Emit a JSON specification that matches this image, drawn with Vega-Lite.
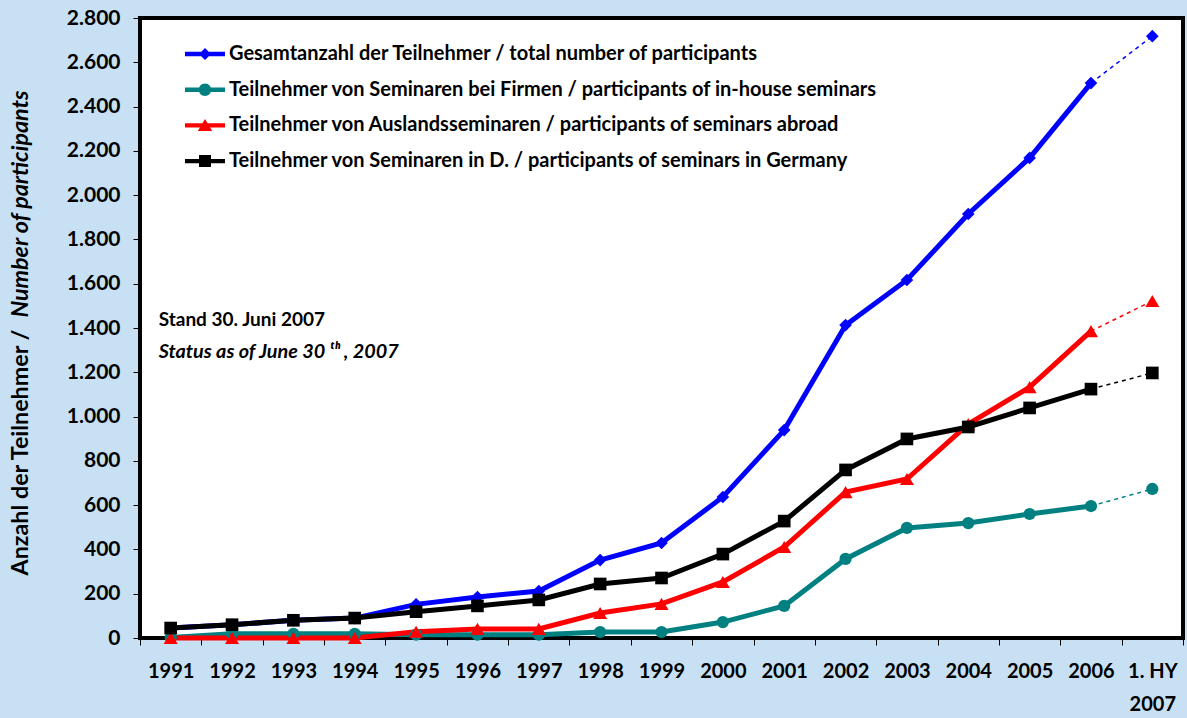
{
  "$schema": "https://vega.github.io/schema/vega-lite/v6.json",
  "width": 1043,
  "height": 620,
  "autosize": {"type": "none"},
  "padding": {"left": 140, "top": 18, "right": 4, "bottom": 80},
  "background": "#c8e0f4",
  "config": {
    "view": {"fill": "white", "stroke": "black", "strokeWidth": 4},
    "font": "Lato",
    "axis": {"grid": false, "labelFont": "Lato", "labelFontWeight": "bold", "labelColor": "black", "tickColor": "black", "domainColor": "black", "titleFont": "Lato", "titleFontWeight": "bold", "titleColor": "black"},
    "legend": {"labelFont": "Lato", "labelFontWeight": "bold", "labelFontSize": 20, "labelColor": "black", "labelLimit": 0, "symbolSize": 400, "symbolStrokeWidth": 0, "symbolOpacity": 1, "rowPadding": 15.7, "labelOffset": 14, "padding": 0}
  },
  "data": {
    "values": [
      {"year": "1991", "series": "total", "value": 45},
      {"year": "1992", "series": "total", "value": 60},
      {"year": "1993", "series": "total", "value": 80},
      {"year": "1994", "series": "total", "value": 90},
      {"year": "1995", "series": "total", "value": 152},
      {"year": "1996", "series": "total", "value": 185},
      {"year": "1997", "series": "total", "value": 212},
      {"year": "1998", "series": "total", "value": 352},
      {"year": "1999", "series": "total", "value": 429},
      {"year": "2000", "series": "total", "value": 637},
      {"year": "2001", "series": "total", "value": 939},
      {"year": "2002", "series": "total", "value": 1413},
      {"year": "2003", "series": "total", "value": 1617},
      {"year": "2004", "series": "total", "value": 1915},
      {"year": "2005", "series": "total", "value": 2168},
      {"year": "2006", "series": "total", "value": 2506},
      {"year": "1. HY 2007", "series": "total", "value": 2718},
      {"year": "1991", "series": "inhouse", "value": 2},
      {"year": "1992", "series": "inhouse", "value": 19},
      {"year": "1993", "series": "inhouse", "value": 19},
      {"year": "1994", "series": "inhouse", "value": 19},
      {"year": "1995", "series": "inhouse", "value": 15},
      {"year": "1996", "series": "inhouse", "value": 15},
      {"year": "1997", "series": "inhouse", "value": 15},
      {"year": "1998", "series": "inhouse", "value": 27},
      {"year": "1999", "series": "inhouse", "value": 27},
      {"year": "2000", "series": "inhouse", "value": 72},
      {"year": "2001", "series": "inhouse", "value": 145},
      {"year": "2002", "series": "inhouse", "value": 357},
      {"year": "2003", "series": "inhouse", "value": 497},
      {"year": "2004", "series": "inhouse", "value": 519},
      {"year": "2005", "series": "inhouse", "value": 560},
      {"year": "2006", "series": "inhouse", "value": 596},
      {"year": "1. HY 2007", "series": "inhouse", "value": 673},
      {"year": "1991", "series": "abroad", "value": 0},
      {"year": "1992", "series": "abroad", "value": 0},
      {"year": "1993", "series": "abroad", "value": 0},
      {"year": "1994", "series": "abroad", "value": 0},
      {"year": "1995", "series": "abroad", "value": 28},
      {"year": "1996", "series": "abroad", "value": 41},
      {"year": "1997", "series": "abroad", "value": 41},
      {"year": "1998", "series": "abroad", "value": 113},
      {"year": "1999", "series": "abroad", "value": 154},
      {"year": "2000", "series": "abroad", "value": 253},
      {"year": "2001", "series": "abroad", "value": 411},
      {"year": "2002", "series": "abroad", "value": 659},
      {"year": "2003", "series": "abroad", "value": 718},
      {"year": "2004", "series": "abroad", "value": 966},
      {"year": "2005", "series": "abroad", "value": 1133},
      {"year": "2006", "series": "abroad", "value": 1386},
      {"year": "1. HY 2007", "series": "abroad", "value": 1522},
      {"year": "1991", "series": "germany", "value": 45},
      {"year": "1992", "series": "germany", "value": 60},
      {"year": "1993", "series": "germany", "value": 80},
      {"year": "1994", "series": "germany", "value": 90},
      {"year": "1995", "series": "germany", "value": 119},
      {"year": "1996", "series": "germany", "value": 145},
      {"year": "1997", "series": "germany", "value": 172},
      {"year": "1998", "series": "germany", "value": 244},
      {"year": "1999", "series": "germany", "value": 271},
      {"year": "2000", "series": "germany", "value": 379},
      {"year": "2001", "series": "germany", "value": 528},
      {"year": "2002", "series": "germany", "value": 759},
      {"year": "2003", "series": "germany", "value": 899},
      {"year": "2004", "series": "germany", "value": 953},
      {"year": "2005", "series": "germany", "value": 1039},
      {"year": "2006", "series": "germany", "value": 1124},
      {"year": "1. HY 2007", "series": "germany", "value": 1197}
    ]
  },
  "layer": [
    {
      "transform": [{"filter": "datum.year != '1. HY 2007'"}],
      "mark": {"type": "line", "strokeWidth": 5},
      "encoding": {
        "x": {
          "field": "year", "type": "nominal", "sort": null,
          "scale": {"type": "band", "paddingInner": 0, "paddingOuter": 0, "domain": ["1991","1992","1993","1994","1995","1996","1997","1998","1999","2000","2001","2002","2003","2004","2005","2006","1. HY 2007"]},
          "axis": {"title": null, "labelAngle": 0, "labelFontSize": 20, "labelFontWeight": "bold", "labelPadding": 16, "labelBaseline": "top", "labelLineHeight": 33, "labelExpr": "datum.value == '1. HY 2007' ? ['1. HY', '2007'] : datum.value", "domain": false, "ticks": true, "tickBand": "extent", "tickSize": 7, "tickWidth": 1}
        },
        "y": {
          "field": "value", "type": "quantitative",
          "scale": {"domain": [0, 2800], "nice": false, "zero": true},
          "axis": {"orient": "left", "values": [0,200,400,600,800,1000,1200,1400,1600,1800,2000,2200,2400,2600,2800], "labelExpr": "replace(format(datum.value, ','), ',', '.')", "labelFontSize": 21, "labelFontWeight": "bold", "labelPadding": 13, "tickSize": 7, "tickWidth": 1, "domain": false, "title": "Anzahl der Teilnehmer / ", "titleFontSize": 23.3, "titleFontWeight": "bold", "titleAngle": 270, "titleAlign": "left", "titleBaseline": "middle", "titleX": -120, "titleY": 557}
        },
        "stroke": {
          "field": "series", "type": "nominal",
          "scale": {"domain": ["germany","abroad","inhouse","total"], "range": ["#000000","#ff0000","#008080","#0000ff"]},
          "legend": null
        }
      }
    },
    {
      "transform": [{"filter": "datum.year == '2006' || datum.year == '1. HY 2007'"}],
      "mark": {"type": "line", "strokeWidth": 1.5, "strokeDash": [4, 4]},
      "encoding": {
        "x": {"field": "year", "type": "nominal", "sort": null},
        "y": {"field": "value", "type": "quantitative", "axis": null},
        "stroke": {"field": "series", "type": "nominal", "legend": null}
      }
    },
    {
      "transform": [{"filter": "datum.series == 'total'"}],
      "mark": {"type": "point", "filled": true, "opacity": 1, "shape": "diamond", "size": 160, "color": "#0000ff"},
      "encoding": {
        "x": {"field": "year", "type": "nominal", "sort": null},
        "y": {"field": "value", "type": "quantitative", "axis": null}
      }
    },
    {
      "transform": [{"filter": "datum.series == 'inhouse'"}],
      "mark": {"type": "point", "filled": true, "opacity": 1, "shape": "circle", "size": 150, "color": "#008080"},
      "encoding": {
        "x": {"field": "year", "type": "nominal", "sort": null},
        "y": {"field": "value", "type": "quantitative", "axis": null}
      }
    },
    {
      "transform": [{"filter": "datum.series == 'abroad'"}],
      "mark": {"type": "point", "filled": true, "opacity": 1, "shape": "triangle-up", "size": 196, "color": "#ff0000"},
      "encoding": {
        "x": {"field": "year", "type": "nominal", "sort": null},
        "y": {"field": "value", "type": "quantitative", "axis": null}
      }
    },
    {
      "transform": [{"filter": "datum.series == 'germany'"}],
      "mark": {"type": "point", "filled": true, "opacity": 1, "shape": "square", "size": 160, "color": "#000000"},
      "encoding": {
        "x": {"field": "year", "type": "nominal", "sort": null},
        "y": {"field": "value", "type": "quantitative", "axis": null}
      }
    },
    {
      "data": {"values": [{"label": "Stand 30. Juni 2007", "year": "1991", "value": 1436}]},
      "mark": {"type": "text", "align": "left", "baseline": "middle", "fontSize": 19, "fontWeight": "bold", "color": "black", "dx": -12},
      "encoding": {
        "x": {"field": "year", "type": "nominal"},
        "y": {"field": "value", "type": "quantitative", "axis": null},
        "text": {"field": "label"}
      }
    },
    {
      "data": {"values": [{"label": "Status as of June 30 ᵗʰ , 2007", "year": "1991", "value": 1292}]},
      "mark": {"type": "text", "align": "left", "baseline": "middle", "fontSize": 19.8, "fontWeight": "bold", "fontStyle": "italic", "color": "black", "dx": -12},
      "encoding": {
        "x": {"field": "year", "type": "nominal"},
        "y": {"field": "value", "type": "quantitative", "axis": null},
        "text": {"field": "label"}
      }
    },
    {
      "transform": [{"filter": "datum.value < 0"}],
      "mark": {"type": "point", "filled": true, "opacity": 1, "size": 400},
      "encoding": {
        "x": {"field": "year", "type": "nominal", "sort": null},
        "y": {"field": "value", "type": "quantitative", "axis": {"orient": "left", "labels": false, "ticks": false, "domain": false, "title": "Number of participants", "titleFontSize": 23.3, "titleFontWeight": "bold", "titleFontStyle": "italic", "titleAngle": 270, "titleAlign": "right", "titleBaseline": "middle", "titleX": -120, "titleY": 72}},
        "color": {
          "field": "series", "type": "nominal",
          "scale": {"domain": ["total","inhouse","abroad","germany"], "range": ["#0000ff","#008080","#ff0000","#000000"]},
          "legend": {"title": null, "orient": "none", "legendX": 55, "legendY": 26, "labelExpr": "datum.value == 'total' ? 'Gesamtanzahl der Teilnehmer / total number of participants' : datum.value == 'inhouse' ? 'Teilnehmer von Seminaren bei Firmen / participants of in-house seminars' : datum.value == 'abroad' ? 'Teilnehmer von Auslandsseminaren / participants of seminars abroad' : 'Teilnehmer von Seminaren in D. / participants of seminars in Germany'"}
        },
        "shape": {
          "field": "series", "type": "nominal",
          "scale": {"domain": ["total","inhouse","abroad","germany"], "range": [
            "M-2,-0.22L2,-0.22L2,0.22L-2,0.22Z M0,-0.6L0.6,0L0,0.6L-0.6,0Z",
            "M-2,-0.22L2,-0.22L2,0.22L-2,0.22Z M0.62,0A0.62,0.62 0 1,1 -0.62,0A0.62,0.62 0 1,1 0.62,0Z",
            "M-2,-0.22L2,-0.22L2,0.22L-2,0.22Z M0,-0.65L0.72,0.55L-0.72,0.55Z",
            "M-2,-0.22L2,-0.22L2,0.22L-2,0.22Z M-0.6,-0.6L0.6,-0.6L0.6,0.6L-0.6,0.6Z"
          ]},
          "legend": {"title": null, "orient": "none", "legendX": 55, "legendY": 26, "labelExpr": "datum.value == 'total' ? 'Gesamtanzahl der Teilnehmer / total number of participants' : datum.value == 'inhouse' ? 'Teilnehmer von Seminaren bei Firmen / participants of in-house seminars' : datum.value == 'abroad' ? 'Teilnehmer von Auslandsseminaren / participants of seminars abroad' : 'Teilnehmer von Seminaren in D. / participants of seminars in Germany'"}
        }
      }
    }
  ],
  "resolve": {"axis": {"y": "independent"}}
}
